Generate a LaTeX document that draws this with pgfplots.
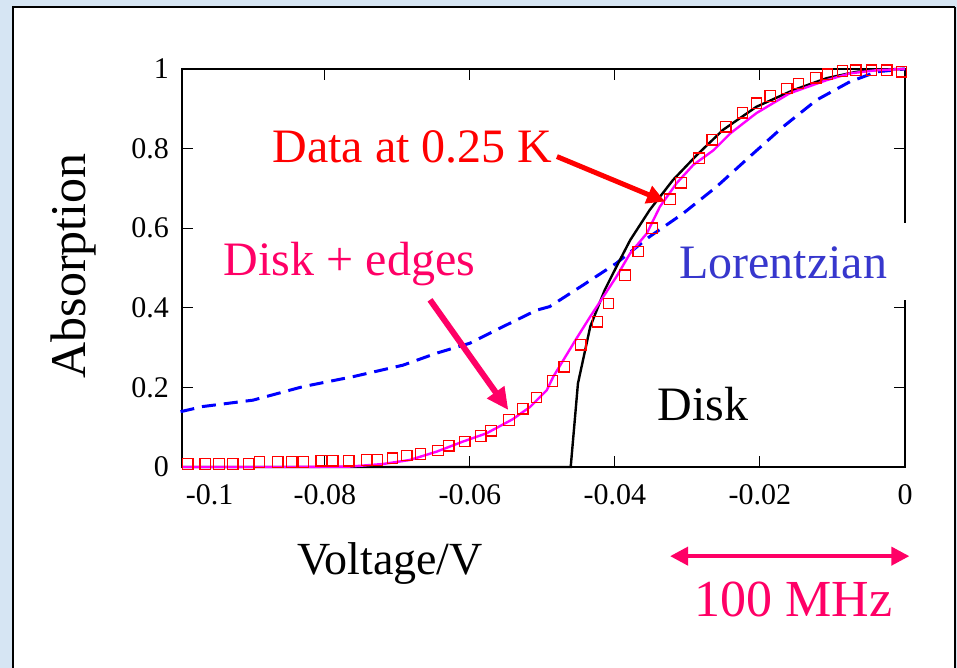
\documentclass[border=0pt]{standalone}
\usepackage{fontspec}
\setmainfont{Liberation Serif}
\usepackage{pgfplots}
\pgfplotsset{compat=1.18}
\usetikzlibrary{arrows.meta}
\definecolor{bgblue}{RGB}{214,229,243}
\definecolor{hotpink}{RGB}{255,0,102}
\definecolor{lorblue}{RGB}{55,55,205}
\definecolor{mag}{RGB}{255,0,255}
\begin{document}
\begin{tikzpicture}
\begin{scope}[x=0.5pt,y=-0.5pt,shift={(-91pt,233.5pt)}]
\useasboundingbox (0,0) rectangle (957,668);
\fill[bgblue] (0,0) rectangle (957,668);
\fill[white] (13,7) rectangle (955,672);
\draw[line width=0.9pt] (13,672) -- (13,7) -- (955,7);
\draw[line width=1.3pt] (955,7) -- (955,672);
\end{scope}
\begin{axis}[
  at={(0,0)}, anchor=south west,
  scale only axis, width=361.5pt, height=199pt,
  xmin=-0.0997, xmax=0, ymin=0, ymax=1,
  scaled x ticks=false, scaled y ticks=false,
  xtick={-0.08,-0.06,-0.04,-0.02,0},
  xticklabels={-0.08,-0.06,-0.04,-0.02,0},
  ytick={0,0.2,0.4,0.6,0.8,1},
  yticklabels={0,0.2,0.4,0.6,0.8,1},
  extra x ticks={-0.0959}, extra x tick labels={-0.1},
  extra x tick style={major tick length=0pt},
  tick align=inside, xtick pos=both, ytick pos=both,
  major tick length=5.5pt,
  tick style={line width=0.5pt, black},
  axis line style={line width=1pt},
  ticklabel style={font=\fontsize{15}{18}\selectfont},
  xticklabel style={yshift=-5pt},
  yticklabel style={xshift=-3pt},
  xlabel={Voltage/V},
  xlabel style={at={(axis description cs:0.2877,-0.271)}, anchor=base, font=\fontsize{23}{28}\selectfont},
  ylabel={Absorption},
  ylabel style={at={(axis description cs:-0.134,0.505)}, anchor=base, font=\fontsize{25}{30}\selectfont},
  clip=false,
]
% Lorentzian
\addplot[blue, line width=1.5pt, dash pattern=on 7pt off 4pt] coordinates {
(-0.0999,0.139) (-0.0968,0.152) (-0.0899,0.168) (-0.0830,0.202) (-0.0761,0.227)
(-0.0692,0.256) (-0.0646,0.286) (-0.0600,0.311) (-0.0554,0.353) (-0.0508,0.394)
(-0.0490,0.403) (-0.0444,0.457) (-0.0398,0.512) (-0.0352,0.579) (-0.0306,0.637)
(-0.0260,0.704) (-0.0214,0.780) (-0.0168,0.855) (-0.0122,0.922) (-0.0076,0.968)
(-0.0039,0.993) (0,1)};
% Disk
\addplot[black, line width=1.2pt] coordinates {
(-0.0997,0) (-0.0461,0) (-0.0451,0.210) (-0.0434,0.353) (-0.0414,0.445)
(-0.0398,0.503) (-0.0379,0.570) (-0.0352,0.646) (-0.0320,0.721) (-0.0287,0.784)
(-0.0251,0.847) (-0.0205,0.905) (-0.0154,0.947) (-0.0108,0.977) (-0.0067,0.993)
(-0.0030,0.999) (0,1)};
% Data
\addplot[only marks, mark=square, mark size=2.6pt, red, mark options={line width=0.6pt}] coordinates {
(-0.0989,0.0075) (-0.0965,0.0075) (-0.0946,0.0075) (-0.0927,0.0075) (-0.0905,0.0075)
(-0.0890,0.0126) (-0.0865,0.0126) (-0.0846,0.0126) (-0.0830,0.0126) (-0.0805,0.0158)
(-0.0789,0.0158) (-0.0767,0.0158) (-0.0742,0.0176) (-0.0728,0.0176) (-0.0707,0.0219)
(-0.0687,0.0284) (-0.0668,0.0327) (-0.0644,0.041) (-0.0629,0.0535) (-0.0607,0.0636)
(-0.0585,0.0779) (-0.0571,0.0912) (-0.0546,0.118) (-0.0527,0.146) (-0.0508,0.175)
(-0.0486,0.216) (-0.0470,0.252) (-0.0447,0.307) (-0.0424,0.365) (-0.0409,0.411)
(-0.0386,0.482) (-0.0368,0.541) (-0.0349,0.600) (-0.0324,0.673) (-0.0309,0.714)
(-0.0284,0.776) (-0.0266,0.822) (-0.0247,0.855) (-0.0224,0.890) (-0.0205,0.914)
(-0.0186,0.932) (-0.0163,0.951) (-0.0147,0.964) (-0.0123,0.978) (-0.0107,0.987)
(-0.0086,0.995) (-0.0068,0.997) (-0.0046,0.997) (-0.0025,0.997) (-0.0005,0.993)};
% Disk + edges
\addplot[mag, line width=1.2pt] coordinates {
(-0.0997,0) (-0.0848,0) (-0.0766,0.001) (-0.0720,0.0075) (-0.0683,0.0176)
(-0.0646,0.0385) (-0.0610,0.0636) (-0.0577,0.0847) (-0.0541,0.120) (-0.0517,0.151)
(-0.0494,0.193) (-0.0485,0.227) (-0.0471,0.269) (-0.0453,0.323) (-0.0434,0.378)
(-0.0416,0.428) (-0.0398,0.478) (-0.0379,0.537) (-0.0356,0.587) (-0.0338,0.654)
(-0.0315,0.713) (-0.0292,0.759) (-0.0264,0.796) (-0.0241,0.838) (-0.0205,0.889)
(-0.0159,0.939) (-0.0108,0.972) (-0.0076,0.989) (-0.0039,0.997) (0,1)};
% annotations
\node[anchor=base, text=red, font=\fontsize{24}{29}\selectfont] at (axis cs:-0.0679,0.764) {Data at 0.25 K};
\draw[red, line width=2.5pt, -{Triangle[length=9pt,width=9pt]}] (axis cs:-0.0480,0.780) -- (axis cs:-0.0331,0.667);
\node[anchor=base, text=hotpink, font=\fontsize{24}{29}\selectfont] at (axis cs:-0.0766,0.482) {Disk + edges};
\draw[hotpink, line width=3pt, -{Triangle[length=11pt,width=10pt]}] (axis cs:-0.0655,0.420) -- (axis cs:-0.0547,0.143);
\fill[white] (axis cs:-0.0316,0.420) rectangle (axis cs:0.0007,0.613);
\node[anchor=base, text=lorblue, font=\fontsize{24}{29}\selectfont] at (axis cs:-0.0168,0.474) {Lorentzian};
\node[anchor=base, text=black, font=\fontsize{24}{29}\selectfont] at (axis cs:-0.0279,0.118) {Disk};
\draw[hotpink, line width=2pt, {Triangle[length=9pt,width=9pt]}-{Triangle[length=9pt,width=9pt]}] (axis cs:-0.0324,-0.224) -- (axis cs:0.0006,-0.224);
\node[anchor=base, text=hotpink, font=\fontsize{26}{31}\selectfont] at (axis cs:-0.0154,-0.376) {100 MHz};
\end{axis}
\end{tikzpicture}
\end{document}
